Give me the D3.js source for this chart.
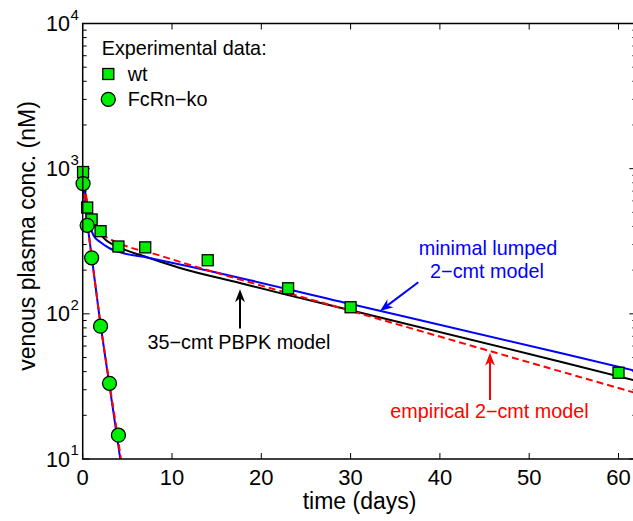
<!DOCTYPE html>
<html>
<head>
<meta charset="utf-8">
<script src="https://cdn.jsdelivr.net/npm/d3@7"></script>
<style>
  body { margin: 0; background: #fff; }
  text { font-family: "Liberation Sans", Arial, sans-serif; }
</style>
</head>
<body>
<div id="chart"></div>
<script>
// Experimental data
const wtTime = [0.04, 0.5, 1, 2, 4, 7, 14, 23, 30, 60];
const wtConc = [948, 540, 447, 371, 291, 287, 234, 150, 111, 39.3];
const koTime = [0.04, 0.5, 1, 2, 3, 4];
const koConc = [789, 407, 243, 82.2, 33.2, 14.6];

// Model curves
const pbpkWtTime = [0, 0.45, 1, 1.57, 2.3, 4, 6.8, 10.9, 17.6, 23, 30, 53.5, 62];
const pbpkWtConc = [945, 590, 454, 397, 336, 289, 250, 207, 163, 134.6, 106, 46.8, 34.5];
const lumpedWtTime = [0, 0.3, 0.7, 1.2, 2, 3, 4, 6.8, 10.9, 30, 53.5, 62];
const lumpedWtConc = [901, 606, 428, 348, 311, 283, 267, 247, 219, 116.7, 53.7, 40.4];
const empWtTime = [0, 0.37, 0.82, 1.38, 1.94, 2.69, 4.93, 7.91, 10.9, 30, 45.6, 62];
const empWtConc = [944, 656, 493, 401, 359, 336, 292, 260, 228, 104.9, 55.4, 28.4];
const lumpedKoTime = [0, 0.5, 1, 2, 3, 4, 4.5];
const lumpedKoConc = [800, 430, 250, 84, 32, 12.2, 7.5];
const empKoTime = [0, 0.5, 1, 2, 3, 4, 4.5];
const empKoConc = [800, 430, 250, 85, 33, 13.2, 8];

const xTicks = [0, 10, 20, 30, 40, 50, 60];
const yDecades = [1, 2, 3, 4];

const width = 633, height = 521;
const margin = { left: 82.7, top: 23.5, bottom: 459 };

const svg = d3.select("#chart").append("svg")
  .attr("width", width)
  .attr("height", height);

const x = d3.scaleLinear().domain([0, 62]).range([margin.left, margin.left + 62 * 8.93]);
const y = d3.scaleLog().domain([10, 10000]).range([margin.bottom, margin.top]);

const plotRight = x(62);

svg.append("clipPath").attr("id", "plot-clip")
  .append("rect")
  .attr("x", margin.left).attr("y", margin.top)
  .attr("width", plotRight - margin.left)
  .attr("height", margin.bottom - margin.top);

// Ticks (inward, MATLAB box style)
const axisG = svg.append("g").attr("stroke", "#000").attr("stroke-width", 1);
xTicks.forEach((t) => {
  axisG.append("line").attr("x1", x(t)).attr("x2", x(t))
    .attr("y1", margin.bottom).attr("y2", margin.bottom - 6);
  axisG.append("line").attr("x1", x(t)).attr("x2", x(t))
    .attr("y1", margin.top).attr("y2", margin.top + 6);
});
const minorVals = [];
for (let e = 1; e < 4; e++) {
  for (let m = 2; m <= 9; m++) minorVals.push(m * Math.pow(10, e));
}
minorVals.forEach((v) => {
  axisG.append("line").attr("x1", margin.left).attr("x2", margin.left + 4)
    .attr("y1", y(v)).attr("y2", y(v));
  axisG.append("line").attr("x1", plotRight).attr("x2", plotRight - 4)
    .attr("y1", y(v)).attr("y2", y(v));
});
yDecades.forEach((e) => {
  const v = Math.pow(10, e);
  axisG.append("line").attr("x1", margin.left).attr("x2", margin.left + 7)
    .attr("y1", y(v)).attr("y2", y(v));
  axisG.append("line").attr("x1", plotRight).attr("x2", plotRight - 7)
    .attr("y1", y(v)).attr("y2", y(v));
});

// Model curves
const line = d3.line()
  .x((d) => x(d[0]))
  .y((d) => y(d[1]))
  .curve(d3.curveMonotoneX);
const zip = (ts, cs) => ts.map((t, i) => [t, cs[i]]);

const curves = svg.append("g").attr("clip-path", "url(#plot-clip)").attr("fill", "none");
curves.append("path").attr("d", line(zip(pbpkWtTime, pbpkWtConc)))
  .attr("stroke", "#000").attr("stroke-width", 2);
curves.append("path").attr("d", line(zip(lumpedWtTime, lumpedWtConc)))
  .attr("stroke", "#0000ff").attr("stroke-width", 2);
curves.append("path").attr("d", line(zip(lumpedKoTime, lumpedKoConc)))
  .attr("stroke", "#0000ff").attr("stroke-width", 2);
curves.append("path").attr("d", line(zip(empWtTime, empWtConc)))
  .attr("stroke", "#ff0000").attr("stroke-width", 2).attr("stroke-dasharray", "7,4");
curves.append("path").attr("d", line(zip(empKoTime, empKoConc)))
  .attr("stroke", "#ff0000").attr("stroke-width", 2).attr("stroke-dasharray", "7,4");

// Data markers
const markerG = svg.append("g").attr("fill", "#00ee00").attr("stroke", "#000").attr("stroke-width", 1.3);
markerG.selectAll("rect.wt").data(zip(wtTime, wtConc)).enter()
  .append("rect").attr("class", "wt")
  .attr("x", (d) => x(d[0]) - 5.5).attr("y", (d) => y(d[1]) - 5.5)
  .attr("width", 11).attr("height", 11);
markerG.selectAll("circle.ko").data(zip(koTime, koConc)).enter()
  .append("circle").attr("class", "ko")
  .attr("cx", (d) => x(d[0])).attr("cy", (d) => y(d[1])).attr("r", 7);

// Frame
svg.append("rect")
  .attr("x", margin.left).attr("y", margin.top)
  .attr("width", plotRight - margin.left).attr("height", margin.bottom - margin.top)
  .attr("fill", "none").attr("stroke", "#000").attr("stroke-width", 1.5);

// Tick labels
svg.append("g").selectAll("text").data(xTicks).enter()
  .append("text")
  .attr("x", (d) => x(d)).attr("y", 484.5)
  .attr("text-anchor", "middle").attr("font-size", 22)
  .text((d) => d);

yDecades.forEach((e) => {
  const yy = y(Math.pow(10, e));
  svg.append("text").attr("x", 70).attr("y", yy + 7.5)
    .attr("text-anchor", "end").attr("font-size", 21.5).text("10");
  svg.append("text").attr("x", 70.5).attr("y", yy - 4)
    .attr("font-size", 15).text(e);
});

// Axis titles
svg.append("text").attr("x", 359.5).attr("y", 509)
  .attr("text-anchor", "middle").attr("font-size", 23).text("time (days)");
svg.append("text")
  .attr("transform", "translate(35,236) rotate(-90)")
  .attr("text-anchor", "middle").attr("font-size", 23)
  .text("venous plasma conc. (nM)");

// Legend
const legend = svg.append("g").attr("font-size", 19.8);
legend.append("text").attr("x", 101.7).attr("y", 55).text("Experimental data:");
legend.append("rect").attr("x", 108.3 - 5.5).attr("y", 74 - 5.5)
  .attr("width", 11).attr("height", 11)
  .attr("fill", "#00ee00").attr("stroke", "#000").attr("stroke-width", 1.3);
legend.append("text").attr("x", 127.7).attr("y", 81).text("wt");
legend.append("circle").attr("cx", 108.3).attr("cy", 99.3).attr("r", 7)
  .attr("fill", "#00ee00").attr("stroke", "#000").attr("stroke-width", 1.3);
legend.append("text").attr("x", 127.7).attr("y", 106.3).text("FcRn\u2212ko");

// Annotation arrows
function arrow(x1, y1, x2, y2, color) {
  const ang = Math.atan2(y2 - y1, x2 - x1);
  const len = 13, half = 5, back = 9;
  const ca = Math.cos(ang), sa = Math.sin(ang);
  const bx = x2 - len * ca, by = y2 - len * sa;
  const nx = x2 - back * ca, ny = y2 - back * sa;
  svg.append("line").attr("x1", x1).attr("y1", y1).attr("x2", nx).attr("y2", ny)
    .attr("stroke", color).attr("stroke-width", 2);
  svg.append("path")
    .attr("d", `M${x2},${y2} L${bx - half * sa},${by + half * ca} L${nx},${ny} L${bx + half * sa},${by - half * ca} Z`)
    .attr("fill", color);
}
arrow(418.3, 282.3, 380, 311, "#0000ff");
arrow(490, 400, 490, 352.7, "#ff0000");
arrow(240, 328.5, 240, 289.3, "#000");

const notes = svg.append("g").attr("font-size", 19.8).attr("text-anchor", "middle");
notes.append("text").attr("x", 488).attr("y", 255).attr("fill", "#0000ff").text("minimal lumped");
notes.append("text").attr("x", 487).attr("y", 278).attr("fill", "#0000ff").text("2\u2212cmt model");
notes.append("text").attr("x", 489.5).attr("y", 418).attr("fill", "#ff0000").text("empirical 2\u2212cmt model");
notes.append("text").attr("x", 239).attr("y", 348.5).attr("fill", "#000").text("35\u2212cmt PBPK model");
</script>
</body>
</html>
